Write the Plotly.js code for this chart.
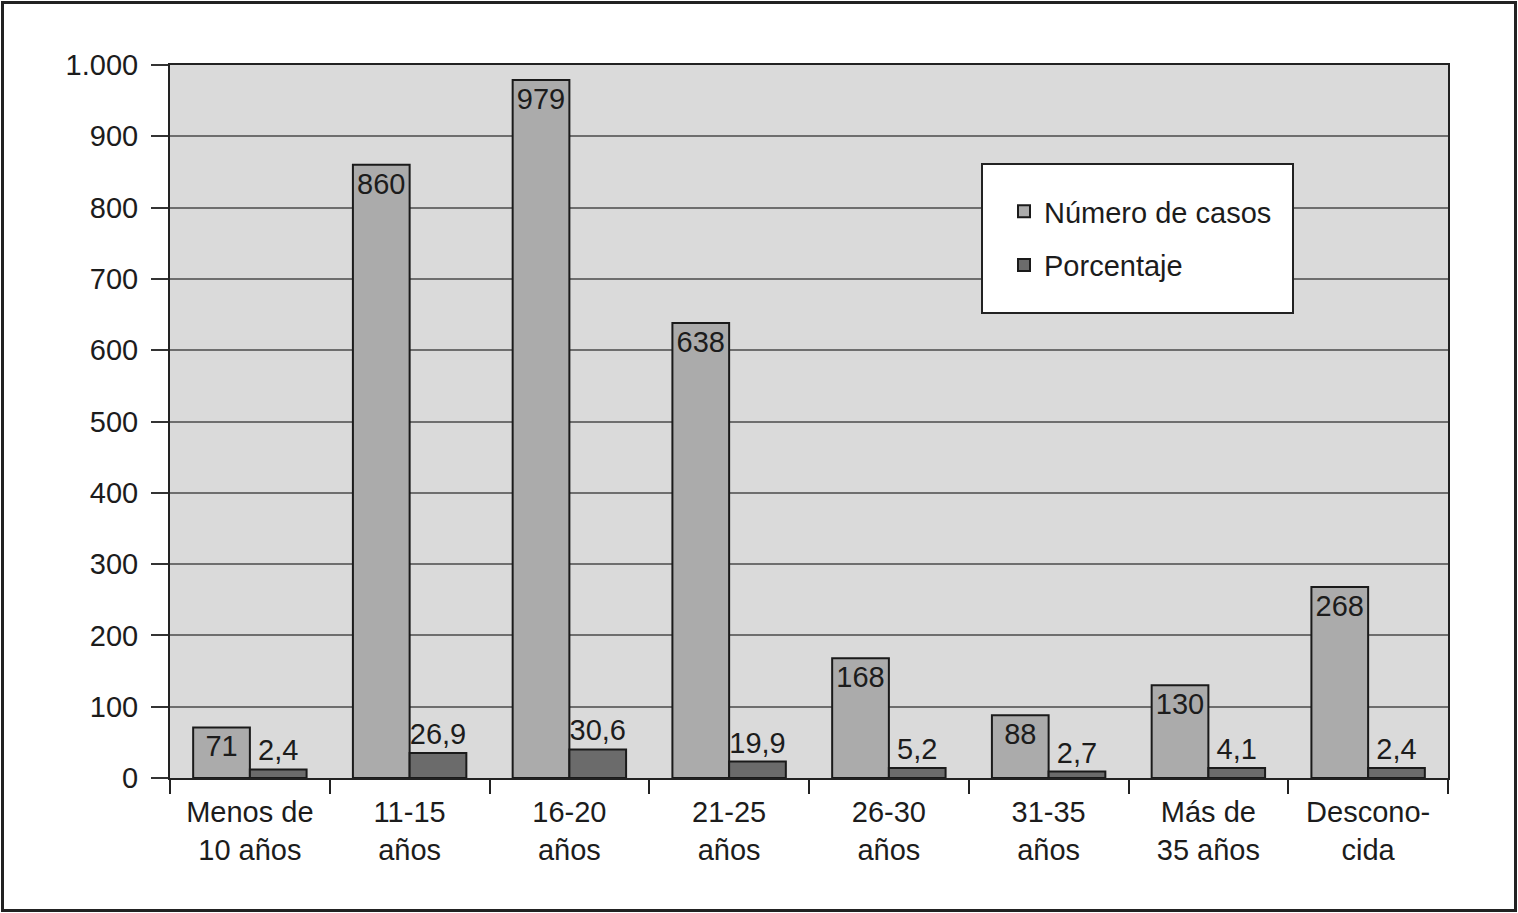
<!DOCTYPE html>
<html>
<head>
<meta charset="utf-8">
<script src="https://cdn.plot.ly/plotly-3.0.1.min.js"></script>
<style>
  html, body { margin: 0; padding: 0; background: #ffffff; }
  #wrap { position: relative; width: 1518px; height: 913px; }
  #chart { position: absolute; left: 0; top: 0; width: 1518px; height: 913px; }
  #frame { position: absolute; left: 1px; top: 1px; width: 1510px; height: 905px;
           border: 3px solid #222; pointer-events: none; }
</style>
</head>
<body>
<div id="wrap">
  <div id="chart"></div>
  <div id="frame"></div>
</div>
<script>
// ---- data ----
const categories = ['Menos de<br>10 años', '11-15<br>años', '16-20<br>años', '21-25<br>años',
                    '26-30<br>años', '31-35<br>años', 'Más de<br>35 años', 'Descono-<br>cida'];
const numeroCasos = [71, 860, 979, 638, 168, 88, 130, 268];
const porcentaje = [2.4, 26.9, 30.6, 19.9, 5.2, 2.7, 4.1, 2.4];
// heights of the dark bars on the 0-1000 axis, as they appear in the picture
const porcentajeBarHeight = [12, 35, 40, 23, 14, 9, 14, 14];
const yTickVals = [0, 100, 200, 300, 400, 500, 600, 700, 800, 900, 1000];
const seriesNames = ['Número de casos', 'Porcentaje'];

const FONT = 'Liberation Sans, Arial, Helvetica, sans-serif';
const TXT = '#1c1c1c';
const FS = 29;

const fmt = v => String(v.toFixed(1)).replace('.', ',');

const traces = [
  {
    type: 'bar', name: seriesNames[0], x: categories, y: numeroCasos,
    text: numeroCasos.map(String), textposition: 'inside', insidetextanchor: 'end',
    textangle: 0, constraintext: 'none', cliponaxis: false,
    insidetextfont: { family: FONT, size: FS, color: TXT },
    marker: { color: '#ababab', line: { color: '#1a1a1a', width: 2 } },
    legendgroup: 'a', hoverinfo: 'skip'
  },
  {
    type: 'bar', name: seriesNames[1], x: categories, y: porcentajeBarHeight,
    text: porcentaje.map(fmt), textposition: 'outside', textangle: 0,
    constraintext: 'none', cliponaxis: false,
    outsidetextfont: { family: FONT, size: FS, color: TXT },
    marker: { color: '#6b6b6b', line: { color: '#1a1a1a', width: 2 } },
    legendgroup: 'b', hoverinfo: 'skip'
  }
];

const L = 170, R = 70, T = 65, B = 135, W = 1518, H = 913;
const pw = W - L - R, ph = H - T - B;
const px = x => (x - L) / pw;
const py = y => 1 - (y - T) / ph;

const layout = {
  width: W, height: H,
  margin: { l: L, r: R, t: T, b: B, pad: 0 },
  paper_bgcolor: '#ffffff', plot_bgcolor: '#dadada',
  font: { family: FONT, size: FS, color: TXT },
  separators: ',.',
  barmode: 'group', bargap: 0.29, bargroupgap: 0,
  showlegend: true,
  legend: {
    x: px(1004), y: py(186), xanchor: 'left', yanchor: 'top',
    bgcolor: 'rgba(0,0,0,0)', borderwidth: 0,
    font: { family: FONT, size: FS, color: TXT },
    traceorder: 'grouped', tracegroupgap: 13, itemclick: false
  },
  xaxis: {
    type: 'category', tickson: 'boundaries', ticks: 'outside', ticklen: 14,
    tickwidth: 2, tickcolor: '#222', showline: true, linecolor: '#222', linewidth: 2,
    mirror: true, showgrid: false, zeroline: false, ticklabelstandoff: 7,
    tickfont: { family: FONT, size: FS, color: TXT }
  },
  yaxis: {
    range: [0, 1000], tickvals: yTickVals, separatethousands: true,
    ticks: 'outside', ticklen: 17, tickwidth: 2, tickcolor: '#333',
    ticklabelstandoff: 7,
    showline: true, linecolor: '#222', linewidth: 2, mirror: true,
    showgrid: true, gridcolor: '#6e6e6e', gridwidth: 2, zeroline: false,
    tickfont: { family: FONT, size: FS, color: TXT }
  },
  shapes: [
    { type: 'rect', xref: 'paper', yref: 'paper', layer: 'above',
      x0: px(982), x1: px(1293), y0: py(313), y1: py(164),
      fillcolor: '#ffffff', line: { color: '#222', width: 2 } }
  ]
};

Plotly.newPlot('chart', traces, layout, { displayModeBar: false, staticPlot: true });
</script>
</body>
</html>
